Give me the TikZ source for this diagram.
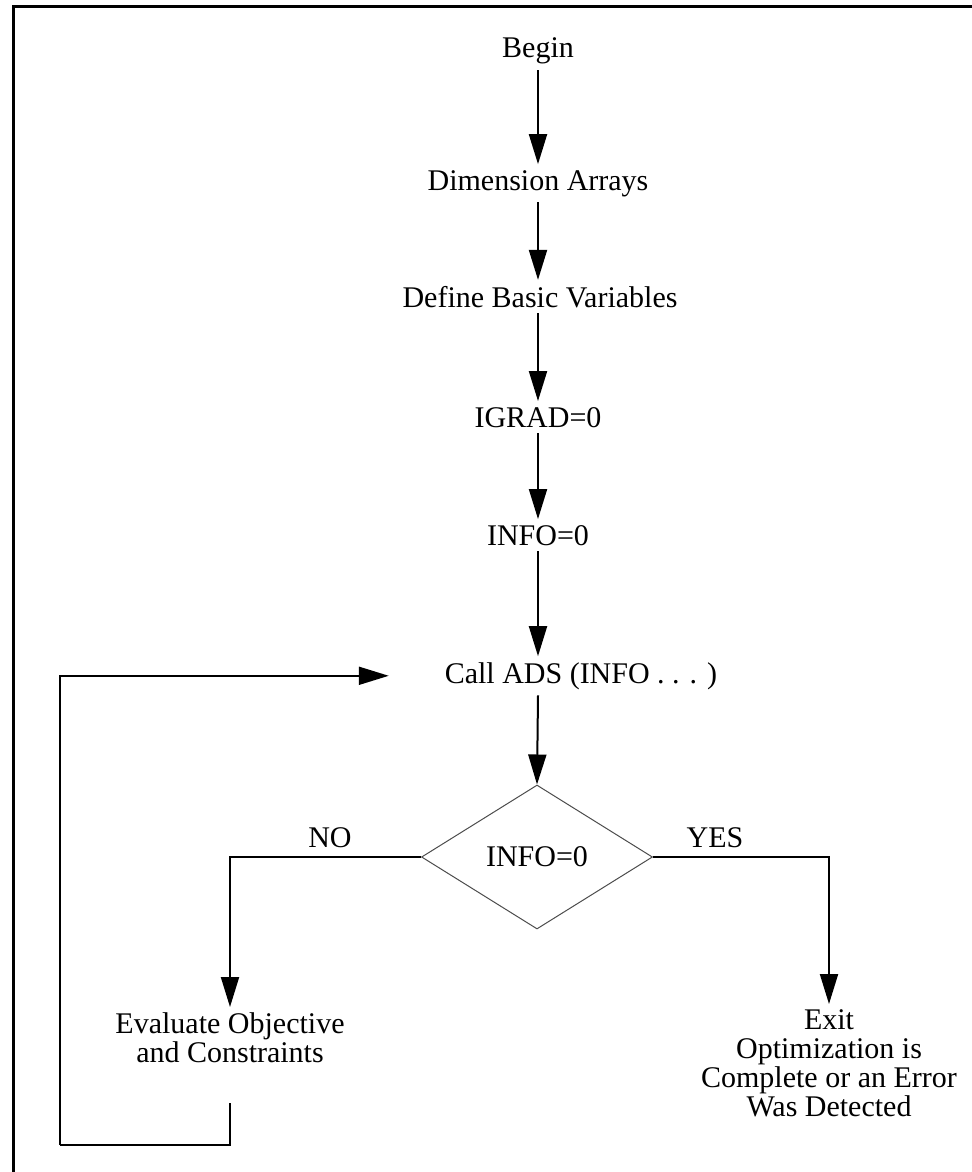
\documentclass[tikz,border=0pt]{standalone}
\usepackage{fontspec}
\setmainfont{Liberation Serif}
\usetikzlibrary{arrows.meta,shapes.geometric}
\tikzset{
  txt/.style={font=\fontsize{15}{14.5}\selectfont, align=center, inner sep=0pt, outer sep=3pt},
  flow/.style={line width=1pt, -{Triangle[length=15pt,width=9pt]}},
  backline/.style={line width=1pt},
  decision/.style={diamond, draw=black!70, line width=0.5pt, inner sep=0pt,
    minimum width=115.5pt, minimum height=72pt, font=\fontsize{15}{14.5}\selectfont}
}
\newcommand{\stepnode}[4]{
  \node [txt, anchor=base] (#1) at (#2,#3) {#4};
}

\begin{document}
\begin{tikzpicture}[x=0.5pt,y=-0.5pt]
  \useasboundingbox (0,0) rectangle (972,1172);
  \draw [line width=1.5pt] (13,1172) -- (13,7) -- (972,7);
%  \draw [line width=1.5pt] (13,7) rectangle (969,1169);

  \stepnode{begin}{538}{58}{Begin}
  \stepnode{dims}{538}{190}{Dimension Arrays}
  \stepnode{vars}{540}{307}{Define Basic Variables}
  \stepnode{igrad}{538}{427}{IGRAD=0}
  \stepnode{info}{538}{545}{INFO=0}
  \stepnode{call}{581}{683}{Call ADS (INFO . . . )}
  \node [decision] (test) at (537,857) {INFO=0};
  \stepnode{no}{330}{847}{NO}
  \stepnode{yes}{715}{847}{YES}
  \node [txt, anchor=north] (eval) at (230,1007) {Evaluate Objective\\and Constraints};
  \node [txt, anchor=north] (exit) at (829,1004) {Exit\\Optimization is\\Complete or an Error\\Was Detected};

  \draw [flow] (begin) -- (dims);
  \draw [flow] (dims) -- (dims |- vars.north);
  \draw [flow] (dims |- vars.south) -- (igrad);
  \draw [flow] (igrad) -- (info);
  \draw [flow] (info.south) -- (info.south |- call.north);
  \draw [flow] (info.south |- call.south) -- (test.north);
  \draw [flow] (test.west) -| (eval.north);
  \draw [flow] (test.east) -| (exit.north);

  % loop back to the call
  \coordinate (corner) at (60,1145);
  \coordinate (back) at ([xshift=-25pt]call.west);
  \draw [backline] ([yshift=-17pt]eval.south) |- (corner);
  \draw [flow] (corner) |- (back);
\end{tikzpicture}
\end{document}
